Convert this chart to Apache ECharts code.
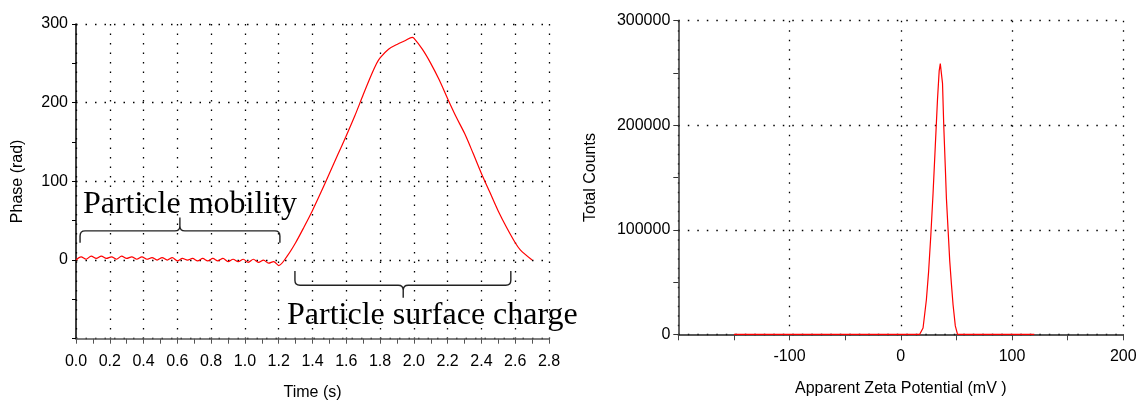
<!DOCTYPE html>
<html><head><meta charset="utf-8">
<script src="https://cdn.jsdelivr.net/npm/echarts@6/dist/echarts.min.js"></script>
<style>html,body{margin:0;padding:0;background:#fff}#c{width:1137px;height:401px}</style>
</head><body><div id="c"></div>
<script>
// Left chart: phase (rad) vs time (s)
const phaseTime = [0,0.03,0.06,0.09,0.12,0.15,0.18,0.21,0.24,0.27,0.30,0.33,0.36,0.39,0.42,0.45,0.48,0.51,0.54,0.57,0.60,0.63,0.66,0.69,0.72,0.75,0.78,0.81,0.84,0.87,0.90,0.93,0.96,0.99,1.02,1.05,1.08,1.11,1.14,1.17,1.20,
  1.25,1.30,1.35,1.40,1.45,1.50,1.55,1.60,1.65,1.70,1.75,1.78,1.80,1.85,1.90,1.95,1.99,2.00,2.05,2.10,2.15,2.20,2.25,2.30,2.35,2.40,2.45,2.50,2.55,2.60,2.63,2.70];
const phaseValue = [0,4,1,5,2,5,2,4,1,5,2,4,1,4,1,3,0,3,0,3,-1,2,0,2,-1,2,-1,2,-1,2,-2,1,-2,1,-3,1,-3,0,-4,-2,-7,
  5,22,42,63,86,110,134,158,183,210,236,250,257,268,274,279,283,282,268,250,229,205,182,161,136,110,86,62,41,22,13,0];
// Right chart: total counts vs apparent zeta potential (mV)
const zetaMv = [-150,17,20,23,25,27,29,31,33,34.5,35.5,36.5,37.5,38.6,40,41,42.5,44,45.5,47,49,51,120];
const zetaCounts = [0,0,6000,33000,60000,95000,135000,180000,225000,252000,259000,258000,240000,200000,160000,130000,100000,70000,48000,28000,8000,0,0];
// Annotation texts
const annotationTexts = ['Particle mobility', 'Particle surface charge'];

// annotation anchors in data coordinates of the left chart
const textAnchors = [[0.041, 71], [1.249, -70]];
const braceSpecs = [
  [0.024, 1.207, 0.615, 37, 22, 54],
  [1.296, 2.574, 1.937, -32, -14, -48]
];

const FONT = 'Liberation Sans, Arial, sans-serif';
const dotted = {show:true, lineStyle:{type:[1.5,8], color:'#000', width:1.3}};
const labelStyle = {fontSize:16, color:'#000', fontFamily:FONT};
const nameStyle = {fontSize:16, color:'#000', fontFamily:FONT};

function braceItem(params, api){
  const from = api.value(0), to = api.value(1), mid = api.value(2);
  const line = api.value(3), end = api.value(4), tip = api.value(5);
  const a = api.coord([from, line]), c = api.coord([to, line]), m = api.coord([mid, line]);
  const ye = api.coord([from, end])[1], yt = api.coord([mid, tip])[1], yl = a[1];
  const r = 5;
  const s1 = Math.sign(ye - yl), s2 = Math.sign(yt - yl);
  const d = `M${a[0]},${ye} L${a[0]},${yl + s1*r} Q${a[0]},${yl} ${a[0]+r},${yl} L${m[0]-r},${yl} Q${m[0]},${yl} ${m[0]},${yl + s2*r} L${m[0]},${yt} M${m[0]},${yl + s2*r} Q${m[0]},${yl} ${m[0]+r},${yl} L${c[0]-r},${yl} Q${c[0]},${yl} ${c[0]},${yl + s1*r} L${c[0]},${ye}`;
  return {type:'path', shape:{pathData:d}, style:{stroke:'#222', lineWidth:1.4, fill:null}};
}
function textItem(params, api){
  const p = api.coord([api.value(0), api.value(1)]);
  return {type:'text', x:p[0], y:p[1],
    style:{text:annotationTexts[params.dataIndex], fill:'#000', fontSize:32,
      fontFamily:'"Liberation Serif", "Times New Roman", serif', align:'left', verticalAlign:'middle'}};
}

const chart = echarts.init(document.getElementById('c'), null, {renderer:'canvas'});
chart.setOption({
  animation:false,
  backgroundColor:'#fff',
  grid:[
    {left:76, top:24, width:473, height:314.7, outerBoundsMode:'none', containLabel:false},
    {left:678.3, top:20.7, width:445, height:313.6, outerBoundsMode:'none', containLabel:false}
  ],
  xAxis:[
    {type:'value', gridIndex:0, min:0, max:2.8, interval:0.2,
     axisLine:{onZero:false, lineStyle:{color:'#555', width:1.5}},
     axisTick:{length:5, lineStyle:{color:'#555'}},
     minorTick:{show:true, splitNumber:2, length:5, lineStyle:{color:'#555'}},
     splitLine:dotted,
     axisLabel:Object.assign({margin:15, formatter:v=>v.toFixed(1)}, labelStyle),
     name:'Time (s)', nameLocation:'middle', nameGap:46, nameTextStyle:nameStyle},
    {type:'value', gridIndex:1, min:-200, max:200, interval:100,
     axisLine:{onZero:false, lineStyle:{color:'#222', width:1.5}},
     axisTick:{length:6, lineStyle:{color:'#444'}},
     minorTick:{show:true, splitNumber:2, length:6, lineStyle:{color:'#444'}},
     splitLine:dotted,
     axisLabel:Object.assign({margin:14, formatter:v=>v===-200?'':String(v)}, labelStyle),
     name:'Apparent Zeta Potential (mV )', nameLocation:'middle', nameGap:46, nameTextStyle:nameStyle}
  ],
  yAxis:[
    {type:'value', gridIndex:0, min:-100, max:300, interval:100,
     axisLine:{onZero:false, lineStyle:{color:'#000', width:1.5}},
     axisTick:{length:4, lineStyle:{color:'#000'}},
     minorTick:{show:true, splitNumber:2, length:4, lineStyle:{color:'#000'}},
     splitLine:dotted,
     axisLabel:Object.assign({margin:8, formatter:v=>v===-100?'':String(v)}, labelStyle),
     name:'Phase (rad)', nameLocation:'middle', nameGap:50, nameTextStyle:nameStyle},
    {type:'value', gridIndex:1, min:0, max:300000, interval:100000,
     axisLine:{onZero:false, lineStyle:{color:'#333', width:1.5}},
     axisTick:{length:5, lineStyle:{color:'#333'}},
     minorTick:{show:true, splitNumber:2, length:5, lineStyle:{color:'#333'}},
     splitLine:dotted,
     axisLabel:Object.assign({margin:8, formatter:v=>String(v)}, labelStyle),
     name:'Total Counts', nameLocation:'middle', nameGap:80, nameTextStyle:nameStyle}
  ],
  series:[
    {type:'line', xAxisIndex:0, yAxisIndex:0, showSymbol:false, silent:true, smooth:0.3,
     lineStyle:{color:'#ff0000', width:1.2},
     data:phaseTime.map((t,i)=>[t, phaseValue[i]])},
    {type:'line', xAxisIndex:1, yAxisIndex:1, showSymbol:false, silent:true,
     lineStyle:{color:'#ff0000', width:1.2},
     data:zetaMv.map((x,i)=>[x, zetaCounts[i]])},
    {type:'custom', xAxisIndex:0, yAxisIndex:0, silent:true, clip:false,
     renderItem:braceItem, data:braceSpecs},
    {type:'custom', xAxisIndex:0, yAxisIndex:0, silent:true, clip:false,
     renderItem:textItem, data:textAnchors}
  ]
});
</script>
</body></html>
